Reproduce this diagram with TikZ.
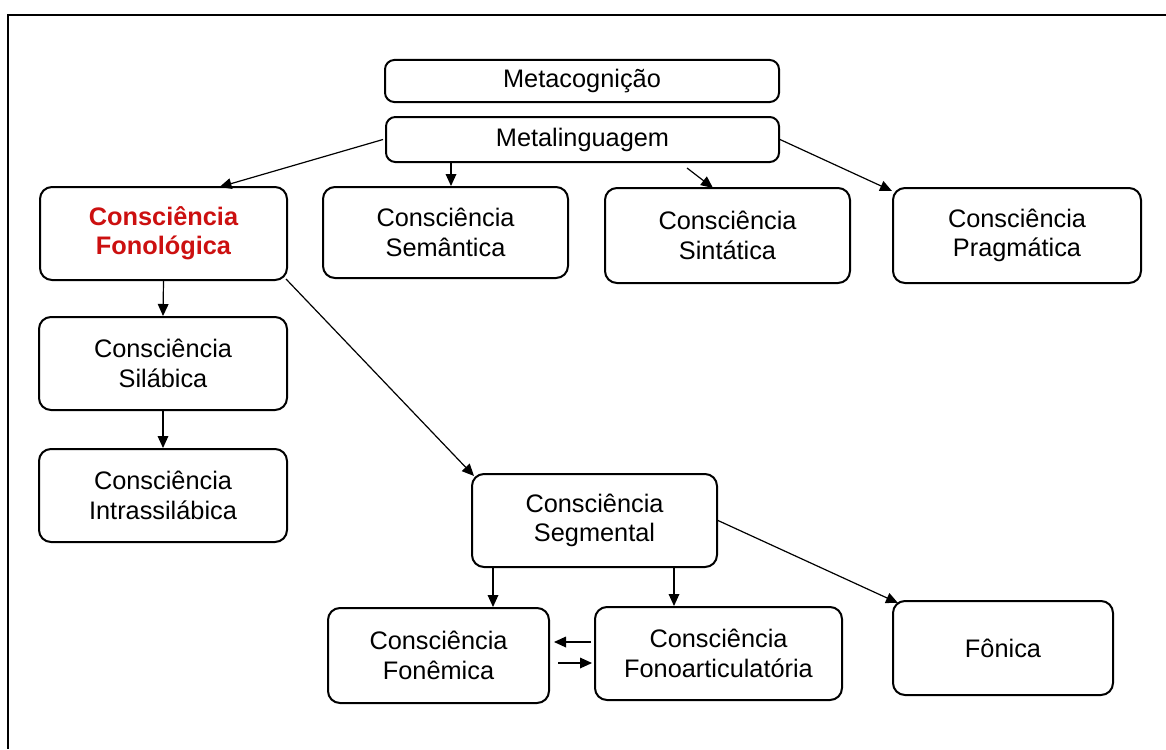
\documentclass[tikz,border=0pt]{standalone}
\usepackage{fontspec}
\setmainfont{Liberation Sans}
\usetikzlibrary{arrows.meta,calc}
\definecolor{fonored}{RGB}{204,16,16}
\begin{document}
\begin{tikzpicture}[x=0.75pt,y=-0.75pt,
  box/.style={draw, line width=1.5pt, rounded corners=9pt, align=center, inner sep=0pt, font=\fontsize{19}{22}\selectfont},
  sz/.style 2 args={minimum width=#1*0.75pt, minimum height=#2*0.75pt},
  arr/.style={line width=0.9pt, -{Triangle[length=9pt,width=8pt]}},
  outerline/.style={line width=1.5pt}]
\useasboundingbox (0,0) rectangle (1166,749);
\fill[white] (0,0) rectangle (1166,749);
\draw[outerline] (1166,15) -- (8,15) -- (8,749);

\node[box, sz={394}{42}, rounded corners=7pt] (meta) at (582,81) {Metacognição};
\node[box, sz={393}{45}, rounded corners=7pt] (metal) at (582.5,139.5) {Metalinguagem};
\node[box, sz={247}{93}, text=fonored, font=\fontsize{19}{22}\selectfont\bfseries] (fono) at (163.5,233.5) {Consciência\\Fonológica};
\node[box, sz={245}{91}] (sem) at (445.5,232.5) {Consciência\\Semântica};
\node[box, sz={245}{95}] (sin) at (727.5,235.5) {Consciência\\Sintática};
\node[box, sz={248}{95}] (prag) at (1017,235.5) {Consciência\\Pragmática};
\node[box, sz={248}{93}] (sil) at (163,363.5) {Consciência\\Silábica};
\node[box, sz={248}{93}] (intra) at (163,495.5) {Consciência\\Intrassilábica};
\node[box, sz={245}{93}] (seg) at (594.5,520.5) {Consciência\\Segmental};
\node[box, sz={221}{95}] (fonem) at (438.5,655.5) {Consciência\\Fonêmica};
\node[box, sz={247}{93}] (fonoart) at (718.5,653.5) {Consciência\\Fonoarticulatória};
\node[box, sz={220}{94}] (fonica) at (1003,648) {Fônica};

\draw[arr] ($(metal.west)+(-2,0)$) -- ($(fono.north)+(56,1)$);
\draw[arr] ($(metal.south)+(-131.5,0)$) coordinate (a1) -- (a1 |- sem.north);
\draw[arr] ($(metal.south)+(104.5,5)$) -- ($(sin.north)+(-14.5,1)$);
\draw[arr] (metal.east) -- ($(prag.north west)+(0,4)$);
\draw[arr] (fono.south) -- (sil.north);
\draw[arr] (sil.south) -- (intra.north);
\draw[arr] ($(fono.south east)+(-2,-2)$) -- ($(seg.north west)+(3,3)$);
\draw[arr] ($(seg.south)+(-101.5,0)$) coordinate (a2) -- (a2 |- fonem.north);
\draw[arr] ($(seg.south)+(79.5,0)$) coordinate (a3) -- (a3 |- fonoart.north);
\draw[arr] (seg.east) -- ($(fonica.north west)+(6,3)$);
\draw[arr] ($(fonoart.west)+(-3,-11.5)$) -- ($(fonem.east)+(4,-13.5)$);
\draw[arr] ($(fonem.east)+(8,7.5)$) -- ($(fonoart.west)+(-2,9.5)$);
\end{tikzpicture}
\end{document}
